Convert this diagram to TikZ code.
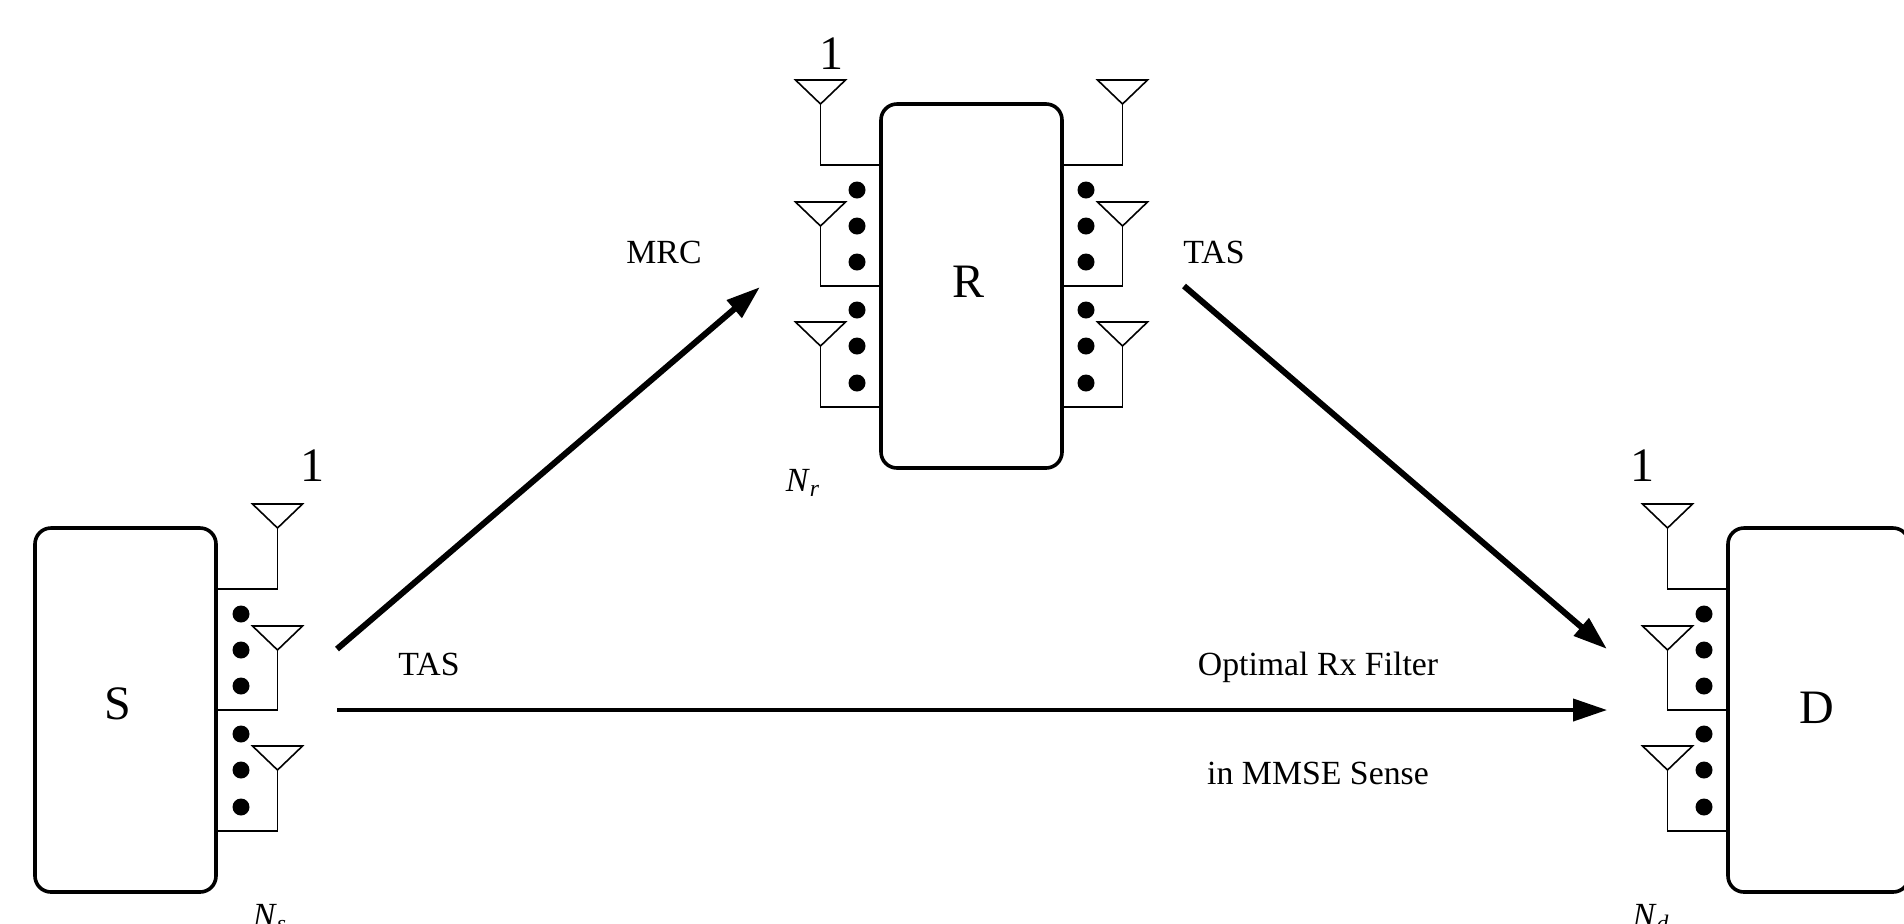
\documentclass[tikz,border=0pt]{standalone}
\usepackage{fontspec}
\setmainfont{Liberation Serif}
\usepackage{tikz,tkz-euclide}
\usetikzlibrary{arrows.meta}
\tikzset{
  unitbox/.style={draw,line width=1.8pt,rounded corners=8pt,minimum width=90.5pt,minimum height=182pt,inner sep=0pt},
  biglabel/.style={font=\fontsize{24}{28}\selectfont,inner sep=0pt},
  smalllabel/.style={font=\fontsize{16.9}{20}\selectfont,inner sep=0pt},
  antline/.style={line width=0.8pt},
  thinlink/.style={line width=2pt,-{Triangle[length=17pt,width=11pt]}},
  thicklink/.style={line width=3pt,-{Triangle[length=17pt,width=11pt]}}
}
% antennas on one side of a box: edge point, direction
\newcommand{\antennaset}[2]{
  \begin{scope}[shift={(#1)},xscale=#2]
    \foreach \y/\e in {0/61,122/182,242/303}{
      \draw[antline] (35.5,\y-24) -- (85.5,\y-24) -- (60.5,\y) -- cycle;
      \draw[antline] (60.5,\y) -- (60.5,\e) -- (0,\e);
    }
    \foreach \y in {86,122,158,206,242,279}
      \fill (24,\y) circle (8.5);
  \end{scope}
}
\newcommand{\antcount}[1]{\textit{N}\textsubscript{\textit{#1}}}
\begin{document}
\begin{tikzpicture}[x=0.5pt,y=-0.5pt]
  \path[use as bounding box,clip] (0,0) rectangle (1904,923);
  \tkzDefPoint(217,528){Sedge}
  \tkzDefPoint(881,104){Rleft}
  \tkzDefPoint(1062,104){Rright}
  \tkzDefPoint(1728,528){Dedge}
  \tkzDefPoint(337,649){Sup}
  \tkzDefPoint(760,287){Rin}
  \tkzDefPoint(1184,286){Rout}
  \tkzDefPoint(1607,649){Ddown}
  \tkzDefPoint(337,710){Sdir}
  \tkzDefPoint(1607,710){Ddir}

  \node[unitbox] (S) at (125.5,710) {};
  \node[unitbox] (R) at (971.5,286) {};
  \node[unitbox] (D) at (1818.5,710) {};
  \node[biglabel] (Sname) at (118,704) {S};
  \node[biglabel] (Rname) at (968,282) {R};
  \node[biglabel] (Dname) at (1817,708) {D};

  \antennaset{Sedge}{1}
  \antennaset{Rleft}{-1}
  \antennaset{Rright}{1}
  \antennaset{Dedge}{-1}

  \draw[thicklink] (Sup) -- (Rin);
  \draw[thicklink] (Rout) -- (Ddown);
  \draw[thinlink] (Sdir) -- (Ddir);

  \node[biglabel] (Sone) at (312,466) {1};
  \node[biglabel] (Rone) at (831,54) {1};
  \node[biglabel] (Done) at (1642,466) {1};
  \node[smalllabel] (Ns) at (270,918) {\antcount{s}};
  \node[smalllabel] (Nr) at (803,483) {\antcount{r}};
  \node[smalllabel] (Nd) at (1651,918) {\antcount{d}};
  \node[smalllabel] (tasS) at (429,664) {TAS};
  \node[smalllabel] (mrc) at (664,252) {MRC};
  \node[smalllabel] (tasR) at (1214,252) {TAS};
  \node[smalllabel] (filter) at (1318,667) {Optimal Rx Filter};
  \node[smalllabel] (mmse) at (1318,773) {in MMSE Sense};
\end{tikzpicture}
\end{document}
